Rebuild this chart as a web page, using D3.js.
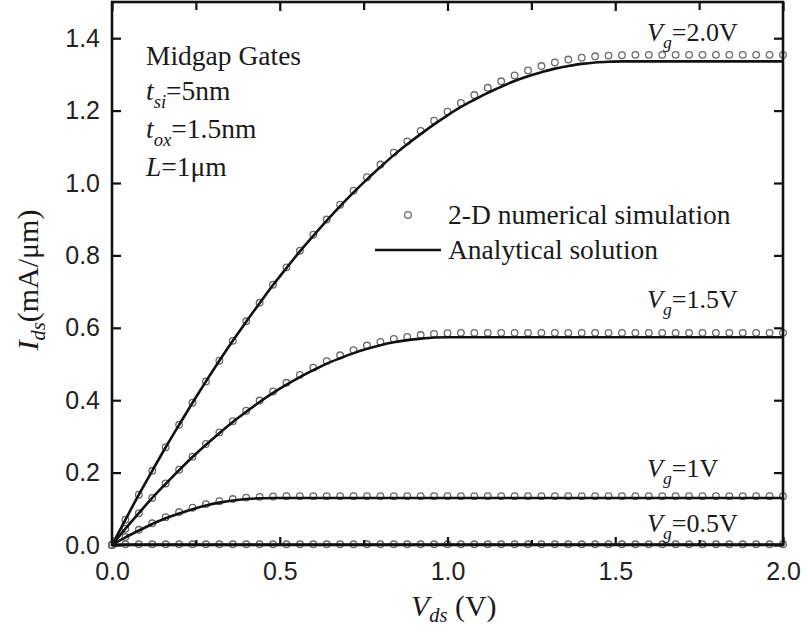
<!DOCTYPE html>
<html><head><meta charset="utf-8">
<script src="https://cdn.jsdelivr.net/npm/d3@7"></script>
<style>body{margin:0;background:#fff}</style>
</head><body>
<svg id="chart" width="806" height="627"></svg>
<script>
// Drain voltage grid (V)
const vds = [0.00,0.04,0.08,0.12,0.16,0.20,0.24,0.28,0.32,0.36,
             0.40,0.44,0.48,0.52,0.56,0.60,0.64,0.68,0.72,0.76,
             0.80,0.84,0.88,0.92,0.96,1.00,1.04,1.08,1.12,1.16,
             1.20,1.24,1.28,1.32,1.36,1.40,1.44,1.48,1.52,1.56,
             1.60,1.64,1.68,1.72,1.76,1.80,1.84,1.88,1.92,1.96,2.00];

// Analytical solution, Ids (mA/um)
const modelVg20 = [0.000,0.070,0.139,0.205,0.270,0.332,0.393,0.452,0.509,0.564,
                   0.617,0.668,0.718,0.765,0.811,0.854,0.896,0.936,0.974,1.010,
                   1.044,1.077,1.107,1.135,1.162,1.187,1.210,1.230,1.249,1.266,
                   1.282,1.295,1.306,1.316,1.323,1.329,1.333,1.335,1.336,1.336,
                   1.336,1.336,1.336,1.336,1.336,1.336,1.336,1.336,1.336,1.336,1.336];
const modelVg15 = [0.000,0.045,0.088,0.130,0.169,0.207,0.243,0.277,0.309,0.340,
                   0.368,0.395,0.420,0.443,0.464,0.483,0.501,0.516,0.530,0.542,
                   0.552,0.560,0.566,0.570,0.573,0.574,0.574,0.574,0.574,0.574,
                   0.574,0.574,0.574,0.574,0.574,0.574,0.574,0.574,0.574,0.574,
                   0.574,0.574,0.574,0.574,0.574,0.574,0.574,0.574,0.574,0.574,0.574];
const modelVg10 = [0.000,0.021,0.040,0.058,0.074,0.087,0.099,0.109,0.117,0.123,
                   0.127,0.129,0.130,0.130,0.130,0.130,0.130,0.130,0.130,0.130,
                   0.130,0.130,0.130,0.130,0.130,0.130,0.130,0.130,0.130,0.130,
                   0.130,0.130,0.130,0.130,0.130,0.130,0.130,0.130,0.130,0.130,
                   0.130,0.130,0.130,0.130,0.130,0.130,0.130,0.130,0.130,0.130,0.130];
const modelVg05 = [0.000,0.001,0.001,0.001,0.001,0.001,0.001,0.001,0.001,0.001,
                   0.001,0.001,0.001,0.001,0.001,0.001,0.001,0.001,0.001,0.001,
                   0.001,0.001,0.001,0.001,0.001,0.001,0.001,0.001,0.001,0.001,
                   0.001,0.001,0.001,0.001,0.001,0.001,0.001,0.001,0.001,0.001,
                   0.001,0.001,0.001,0.001,0.001,0.001,0.001,0.001,0.001,0.001,0.001];

// 2-D numerical simulation, Ids (mA/um)
const simVg20 = [0.000,0.070,0.139,0.205,0.270,0.332,0.393,0.452,0.509,0.564,
                 0.618,0.669,0.719,0.767,0.813,0.857,0.899,0.940,0.979,1.016,
                 1.051,1.084,1.115,1.144,1.172,1.197,1.221,1.243,1.263,1.281,
                 1.297,1.311,1.323,1.333,1.341,1.346,1.350,1.352,1.353,1.354,
                 1.354,1.354,1.354,1.354,1.354,1.354,1.354,1.354,1.354,1.354,1.354];
const simVg15 = [0.000,0.045,0.088,0.130,0.170,0.208,0.244,0.279,0.311,0.342,
                 0.371,0.399,0.424,0.448,0.470,0.490,0.508,0.524,0.538,0.551,
                 0.561,0.569,0.575,0.580,0.583,0.585,0.586,0.586,0.586,0.586,
                 0.586,0.586,0.586,0.586,0.586,0.586,0.586,0.586,0.586,0.586,
                 0.586,0.586,0.586,0.586,0.586,0.586,0.586,0.586,0.586,0.586,0.586];
const simVg10 = [0.000,0.022,0.042,0.060,0.077,0.091,0.103,0.113,0.121,0.127,
                 0.131,0.133,0.134,0.135,0.135,0.135,0.135,0.135,0.135,0.135,
                 0.135,0.135,0.135,0.135,0.135,0.135,0.135,0.135,0.135,0.135,
                 0.135,0.135,0.135,0.135,0.135,0.135,0.135,0.135,0.135,0.135,
                 0.135,0.135,0.135,0.135,0.135,0.135,0.135,0.135,0.135,0.135,0.135];
const simVg05 = [0.000,0.002,0.002,0.002,0.002,0.002,0.002,0.002,0.002,0.002,
                 0.002,0.002,0.002,0.002,0.002,0.002,0.002,0.002,0.002,0.002,
                 0.002,0.002,0.002,0.002,0.002,0.002,0.002,0.002,0.002,0.002,
                 0.002,0.002,0.002,0.002,0.002,0.002,0.002,0.002,0.002,0.002,
                 0.002,0.002,0.002,0.002,0.002,0.002,0.002,0.002,0.002,0.002,0.002];

const gateLabels = ["=2.0V", "=1.5V", "=1V", "=0.5V"];
const xMajorTicks = [0, 0.5, 1.0, 1.5, 2.0];
const xMinorTicks = [0.25, 0.75, 1.25, 1.75];
const yMajorTicks = [0, 0.2, 0.4, 0.6, 0.8, 1.0, 1.2, 1.4];

const series = [
  {model: modelVg20, sim: simVg20, label: gateLabels[0]},
  {model: modelVg15, sim: simVg15, label: gateLabels[1]},
  {model: modelVg10, sim: simVg10, label: gateLabels[2]},
  {model: modelVg05, sim: simVg05, label: gateLabels[3]}
];
// label anchor in data units (Vds, Ids)
const labelAnchor = [[1.595, 1.392], [1.595, 0.655], [1.595, 0.188], [1.595, 0.036]];

const svg = d3.select("#chart");
const L = 112, R = 783, T = 2, B = 545;
const x = d3.scaleLinear().domain([0, 2]).range([L, R]);
const y = d3.scaleLinear().domain([0, 1.5]).range([B, T]);

const serif = "'Liberation Serif','Times New Roman',serif";
const sans = "'Liberation Sans',Arial,Helvetica,sans-serif";
const ink = "#1a1a1a";

// rich text helper: parts = [{t, i (italic), sub}]
function rich(sel, parts, size, drop = 0.28) {
  parts.forEach((p, k) => {
    const prevSub = k > 0 && parts[k-1].sub;
    const ts = sel.append("tspan").text(p.t)
      .attr("font-style", p.i ? "italic" : "normal");
    if (p.sub) ts.attr("font-size", size * 0.68).attr("dy", size * drop);
    else if (prevSub) ts.attr("dy", -size * drop);
  });
}

// simulation markers
series.forEach(s => {
  svg.append("g").selectAll("circle").data(s.sim).join("circle")
    .attr("cx", (d, i) => x(vds[i])).attr("cy", d => y(d))
    .attr("r", 3.3).attr("fill", "none")
    .attr("stroke", "#6a6a6a").attr("stroke-width", 1.3);
});

// analytical curves
const line = d3.line().x((d, i) => x(vds[i])).y(d => y(d)).curve(d3.curveMonotoneX);
series.forEach(s => {
  svg.append("path").attr("d", line(s.model))
    .attr("fill", "none").attr("stroke", "#111").attr("stroke-width", 2.6);
});

// axes with inward ticks
function styleAxis(g) {
  g.select(".domain").remove();
  g.selectAll("line").attr("stroke", "#111").attr("stroke-width", 2.2);
  g.selectAll("text").attr("font-family", sans).attr("font-size", 25).attr("fill", "#222");
}
svg.append("g").attr("transform", `translate(0,${B})`)
  .call(d3.axisBottom(x).tickValues(xMajorTicks).tickFormat(d3.format(".1f")).tickSizeInner(-8).tickSizeOuter(0).tickPadding(17))
  .call(styleAxis);
svg.append("g").attr("transform", `translate(0,${B})`)
  .call(d3.axisBottom(x).tickValues(xMinorTicks).tickFormat("").tickSizeInner(-5).tickSizeOuter(0))
  .call(styleAxis);
svg.append("g").attr("transform", `translate(0,${T})`)
  .call(d3.axisTop(x).tickValues(xMajorTicks).tickFormat("").tickSizeInner(-9).tickSizeOuter(0))
  .call(styleAxis);
svg.append("g").attr("transform", `translate(0,${T})`)
  .call(d3.axisTop(x).tickValues(xMinorTicks).tickFormat("").tickSizeInner(-8).tickSizeOuter(0))
  .call(styleAxis);
svg.append("g").attr("transform", `translate(${L},0)`)
  .call(d3.axisLeft(y).tickValues(yMajorTicks).tickFormat(d3.format(".1f")).tickSizeInner(-9).tickSizeOuter(0).tickPadding(12))
  .call(styleAxis);
svg.append("g").attr("transform", `translate(${R},0)`)
  .call(d3.axisRight(y).tickValues(yMajorTicks).tickFormat("").tickSizeInner(-9).tickSizeOuter(0))
  .call(styleAxis);

// frame
svg.append("rect").attr("x", L).attr("y", T).attr("width", R - L).attr("height", B - T)
  .attr("fill", "none").attr("stroke", "#111").attr("stroke-width", 2.6);

// axis titles
rich(svg.append("text").attr("x", 411).attr("y", 616)
  .attr("font-family", serif).attr("font-size", 30).attr("fill", ink),
  [{t: "V", i: true}, {t: "ds", i: true, sub: true}, {t: " (V)"}], 30, 0.2);
rich(svg.append("text").attr("transform", "translate(38,280) rotate(-90)")
  .attr("text-anchor", "middle")
  .attr("font-family", serif).attr("font-size", 30).attr("fill", ink),
  [{t: "I", i: true}, {t: "ds", i: true, sub: true}, {t: "(mA/μm)"}], 30, 0.22);

// device parameters
const info = svg.append("g").attr("font-family", serif).attr("font-size", 27.5).attr("fill", ink);
info.append("text").attr("x", 146).attr("y", 65).text("Midgap Gates");
rich(info.append("text").attr("x", 146).attr("y", 100), [{t: "t", i: true}, {t: "si", i: true, sub: true}, {t: "=5nm"}], 27.5);
rich(info.append("text").attr("x", 146).attr("y", 138), [{t: "t", i: true}, {t: "ox", i: true, sub: true}, {t: "=1.5nm"}], 27.5);
rich(info.append("text").attr("x", 146).attr("y", 176), [{t: "L", i: true}, {t: "=1μm"}], 27.5);

// legend
const lg = svg.append("g").attr("font-family", serif).attr("font-size", 27.5).attr("fill", ink);
lg.append("circle").attr("cx", 408).attr("cy", 215).attr("r", 3.3)
  .attr("fill", "none").attr("stroke", "#6a6a6a").attr("stroke-width", 1.3);
lg.append("text").attr("x", 448).attr("y", 224).text("2-D numerical simulation");
lg.append("line").attr("x1", 375).attr("x2", 441).attr("y1", 250).attr("y2", 250)
  .attr("stroke", "#111").attr("stroke-width", 2.6);
lg.append("text").attr("x", 448).attr("y", 259).text("Analytical solution");

// gate voltage labels
series.forEach((s, k) => {
  const t = svg.append("text").attr("x", x(labelAnchor[k][0])).attr("y", y(labelAnchor[k][1]))
    .attr("font-family", serif).attr("font-size", 26).attr("fill", ink);
  rich(t, [{t: "V", i: true}, {t: "g", i: true, sub: true}, {t: s.label}], 26);
});
</script></body></html>
